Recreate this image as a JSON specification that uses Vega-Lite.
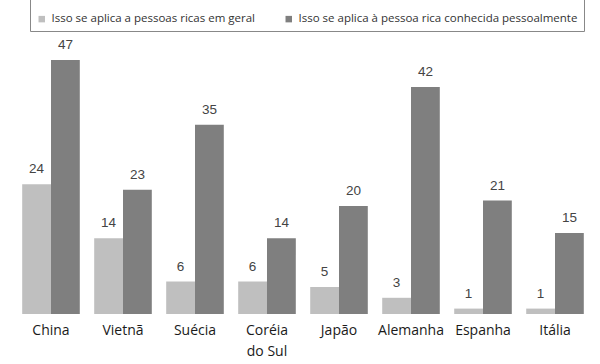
{
  "$schema": "https://vega.github.io/schema/vega-lite/v6.json",
  "width": 576,
  "height": 254,
  "autosize": {"type": "none"},
  "padding": {"left": 15, "top": 60, "right": 9, "bottom": 50},
  "background": "white",
  "config": {"view": {"stroke": null}},
  "data": {
    "values": [
      {"pais": "China", "grupo": "Isso se aplica a pessoas ricas em geral", "valor": 24},
      {"pais": "China", "grupo": "Isso se aplica à pessoa rica conhecida pessoalmente", "valor": 47},
      {"pais": "Vietnã", "grupo": "Isso se aplica a pessoas ricas em geral", "valor": 14},
      {"pais": "Vietnã", "grupo": "Isso se aplica à pessoa rica conhecida pessoalmente", "valor": 23},
      {"pais": "Suécia", "grupo": "Isso se aplica a pessoas ricas em geral", "valor": 6},
      {"pais": "Suécia", "grupo": "Isso se aplica à pessoa rica conhecida pessoalmente", "valor": 35},
      {"pais": "Coréia do Sul", "grupo": "Isso se aplica a pessoas ricas em geral", "valor": 6},
      {"pais": "Coréia do Sul", "grupo": "Isso se aplica à pessoa rica conhecida pessoalmente", "valor": 14},
      {"pais": "Japão", "grupo": "Isso se aplica a pessoas ricas em geral", "valor": 5},
      {"pais": "Japão", "grupo": "Isso se aplica à pessoa rica conhecida pessoalmente", "valor": 20},
      {"pais": "Alemanha", "grupo": "Isso se aplica a pessoas ricas em geral", "valor": 3},
      {"pais": "Alemanha", "grupo": "Isso se aplica à pessoa rica conhecida pessoalmente", "valor": 42},
      {"pais": "Espanha", "grupo": "Isso se aplica a pessoas ricas em geral", "valor": 1},
      {"pais": "Espanha", "grupo": "Isso se aplica à pessoa rica conhecida pessoalmente", "valor": 21},
      {"pais": "Itália", "grupo": "Isso se aplica a pessoas ricas em geral", "valor": 1},
      {"pais": "Itália", "grupo": "Isso se aplica à pessoa rica conhecida pessoalmente", "valor": 15}
    ]
  },
  "encoding": {
    "x": {
      "field": "pais",
      "type": "nominal",
      "sort": null,
      "title": null,
      "scale": {"paddingInner": 0.2, "paddingOuter": 0.1},
      "axis": {
        "labelAngle": 0,
        "ticks": false,
        "domain": false,
        "labelPadding": 9,
        "labelFont": "Open Sans",
        "labelFontSize": 14,
        "labelColor": "#1a1a1a",
        "labelLineHeight": 21,
        "labelExpr": "datum.value == 'Coréia do Sul' ? ['Coréia', 'do Sul'] : datum.value"
      }
    },
    "xOffset": {"field": "grupo", "type": "nominal", "sort": null, "scale": {"paddingInner": 0}},
    "y": {"field": "valor", "type": "quantitative", "scale": {"domain": [0, 47], "nice": false}, "axis": null}
  },
  "layer": [
    {
      "mark": {"type": "bar"},
      "encoding": {
        "color": {
          "field": "grupo",
          "type": "nominal",
          "sort": null,
          "scale": {"range": ["#bfbfbf", "#7f7f7f"]},
          "legend": {
            "orient": "none",
            "legendX": 15,
            "legendY": -65,
            "direction": "horizontal",
            "columns": 2,
            "title": " ",
            "titleFontSize": 12,
            "titlePadding": 0,
            "padding": 6,
            "strokeColor": "#888888",
            "symbolType": "square",
            "symbolSize": 42,
            "symbolStrokeWidth": 0,
            "labelFont": "Open Sans",
            "labelFontSize": 11.5,
            "labelColor": "#333333",
            "labelOffset": 4,
            "columnPadding": 28,
            "labelLimit": 400
          }
        }
      }
    },
    {
      "mark": {"type": "text", "baseline": "bottom", "dy": -8, "font": "Liberation Sans", "fontSize": 13.5, "color": "#444444"},
      "encoding": {"text": {"field": "valor", "type": "quantitative"}}
    }
  ]
}
